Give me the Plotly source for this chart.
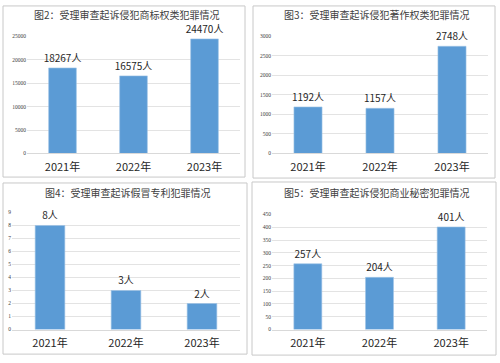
import plotly.graph_objects as go

years = ["2021年", "2022年", "2023年"]
titles = ["图2：受理审查起诉侵犯商标权类犯罪情况",
          "图3：受理审查起诉侵犯著作权类犯罪情况",
          "图4：受理审查起诉假冒专利犯罪情况",
          "图5：受理审查起诉侵犯商业秘密犯罪情况"]
trademark = [18267, 16575, 24470]
copyright_ = [1192, 1157, 2748]
patent = [8, 3, 2]
secret = [257, 204, 401]
series = [trademark, copyright_, patent, secret]
ymax = [25000, 3000, 9, 450]
dticks = [5000, 500, 1, 50]

W, H = 500, 363
def px(x): return x / W
def py(y): return 1 - y / H

# panel layout in pixels: (plot x0, x1, plot top, plot bottom, border x0, x1, y0, y1, title y)
panels = [
    (27, 240, 34, 153, 3, 245, 3, 177, 12),
    (272, 488, 34, 153, 253, 495, 3, 178, 12),
    (12, 240, 213, 332, 3, 247, 183, 357, 193),
    (272, 487, 215, 332, 252, 496, 182, 358, 193),
]

fig = go.Figure()
shapes = []
annotations = []
for i, (vals, p) in enumerate(zip(series, panels)):
    n = i + 1
    xa = "x" if n == 1 else f"x{n}"
    ya = "y" if n == 1 else f"y{n}"
    fig.add_trace(go.Bar(
        x=years, y=vals, xaxis=xa, yaxis=ya,
        marker=dict(color="#5B9BD5", line=dict(color="#9DC3E6", width=0.6)),
        width=0.39,
        text=[f"{v}人" for v in vals], textposition="outside", constraintext="none",
        textfont=dict(size=10, color="#262626", family="Liberation Sans Narrow, Noto Sans CJK SC"),
        cliponaxis=False, showlegend=False, hoverinfo="skip",
    ))
    x0, x1, yt, yb, bx0, bx1, by0, by1, ty = p
    fig.layout[f"xaxis{'' if n == 1 else n}"] = dict(
        domain=[px(x0), px(x1)], anchor=ya, range=[-0.5, 2.5],
        showgrid=False, showline=True, linecolor="#d9d9d9", linewidth=1,
        ticks="", ticklabelstandoff=3,
        tickfont=dict(size=11, color="#262626", family="Liberation Sans Narrow, Noto Sans CJK SC"),
    )
    fig.layout[f"yaxis{'' if n == 1 else n}"] = dict(
        domain=[py(yb), py(yt)], anchor=xa, range=[0, ymax[i]], dtick=dticks[i],
        tickformat="d",
        showgrid=True, gridcolor="#e3e3e3", gridwidth=1, zeroline=False,
        showline=False, ticks="", ticklen=0,
        tickfont=dict(size=5.5, color="#404040", family="Liberation Sans Narrow"),
    )
    shapes.append(dict(type="rect", xref="paper", yref="paper",
                       x0=px(bx0), x1=px(bx1), y0=py(by1), y1=py(by0),
                       line=dict(color="#c8c8c8", width=1), fillcolor="rgba(0,0,0,0)"))
    annotations.append(dict(text=titles[i], xref="paper", yref="paper",
                            x=px((bx0 + bx1) / 2 + 3), y=py(ty), showarrow=False,
                            xanchor="center", yanchor="middle",
                            font=dict(size=10, color="#404040", family="Noto Sans CJK SC")))

fig.update_layout(width=W, height=H, margin=dict(l=0, r=0, t=0, b=0),
                  paper_bgcolor="white", plot_bgcolor="white",
                  shapes=shapes, annotations=annotations, bargap=0.6)
fig.write_html("out.html", config={"displayModeBar": False},
               post_script="document.body.style.margin='0';document.body.style.overflow='hidden';")
